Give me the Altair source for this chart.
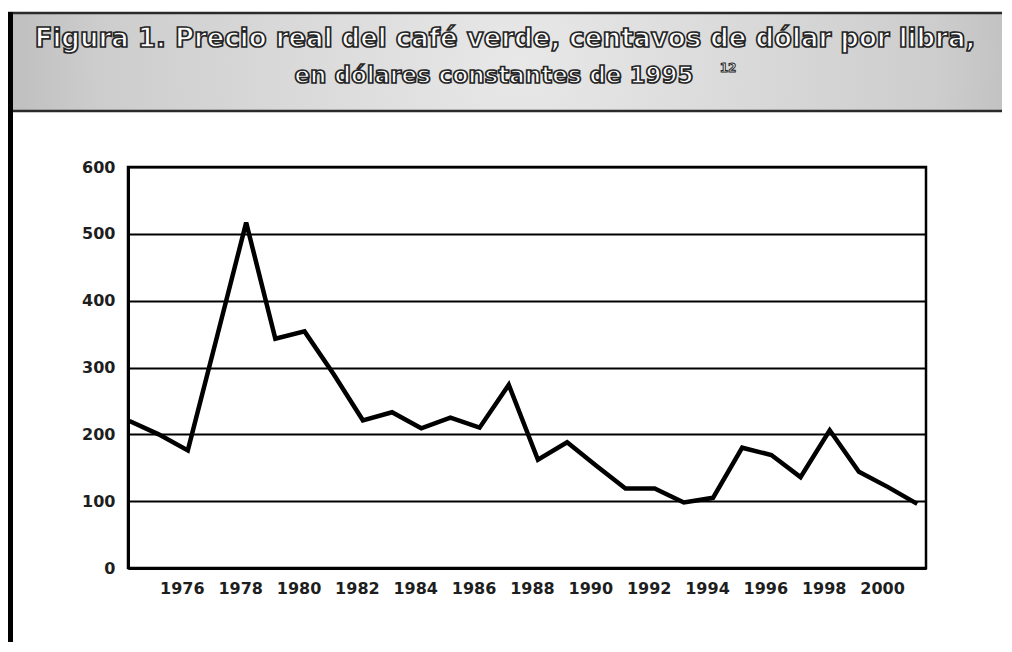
import altair as alt
import pandas as pd

# ---- data ----
years = list(range(1974, 2002))
prices = [220, 200, 176, 346, 517, 343, 354, 290, 221, 233,
          209, 225, 210, 274, 162, 188, 153, 119, 119, 98,
          105, 180, 169, 136, 206, 144, 121, 96]
x_tick_years = [1976, 1978, 1980, 1982, 1984, 1986, 1988, 1990,
                1992, 1994, 1996, 1998, 2000]
y_ticks = [0, 100, 200, 300, 400, 500, 600]
title_line1 = "Figura 1. Precio real del café verde, centavos de dólar por libra,"
title_line2 = "en dólares constantes de 1995"
title_note = "12"

df = pd.DataFrame({"year": years, "price": prices})

W, H = 798, 401

# ---- decorative banner and frame ----
banner = alt.Chart(alt.Data(values=[{}])).mark_rect(
    fill=alt.RadialGradient(
        gradient="radial",
        stops=[alt.GradientStop(color="#e8e8e8", offset=0),
               alt.GradientStop(color="#cdcdcd", offset=0.55),
               alt.GradientStop(color="#969696", offset=1)],
        x1=0.5, y1=0.5, x2=0.5, y2=0.5, r1=0, r2=0.75),
    stroke="#2a2a2a", strokeWidth=2.5
).encode(x=alt.value(-119), x2=alt.value(900), y=alt.value(-154), y2=alt.value(-56))

left_border = alt.Chart(alt.Data(values=[{}])).mark_rule(
    color="black", strokeWidth=5
).encode(x=alt.value(-117.5), y=alt.value(-155), y2=alt.value(480))

def title_text(txt, x, y, size, sw):
    return alt.Chart(alt.Data(values=[{"t": txt}])).mark_text(
        font="DejaVu Sans", fontWeight="bold", fontSize=size,
        fill="white", stroke="#262626", strokeWidth=sw,
        align="center", baseline="alphabetic"
    ).encode(x=alt.value(x), y=alt.value(y), text="t:N")

t1 = title_text(title_line1, 377, -120, 26, 1.7)
t2 = title_text(title_line2, 366, -84, 23, 1.7)
t3 = title_text(title_note, 600, -95, 12, 1.0)

# ---- the data line ----
line = alt.Chart(df).mark_line(color="black", strokeWidth=4.5).encode(
    x=alt.X("year:Q",
            scale=alt.Scale(domain=[1973.95, 2001.3], nice=False, zero=False),
            axis=alt.Axis(values=x_tick_years, format="d", title=None,
                          grid=False, ticks=False, labelOffset=-6,
                          labelPadding=12)),
    y=alt.Y("price:Q",
            scale=alt.Scale(domain=[0, 600], nice=False),
            axis=alt.Axis(values=y_ticks, title=None, grid=True,
                          ticks=False, labelPadding=13)),
)

chart = alt.layer(banner, left_border, t1, t2, t3, line).properties(
    width=W, height=H,
    autosize=alt.AutoSizeParams(type="none"),
    padding={"left": 120, "top": 159, "right": 76, "bottom": 74},
    background="white",
).configure_view(
    stroke="black", strokeWidth=2.5
).configure_axis(
    labelFont="DejaVu Sans", labelFontWeight="bold", labelFontSize=16,
    labelColor="#1e1e1e", domainColor="black", domainWidth=3,
    gridColor="black", gridWidth=1.8, gridOpacity=1,
)

chart.save("out.html", embed_options={"renderer": "svg", "actions": False})
